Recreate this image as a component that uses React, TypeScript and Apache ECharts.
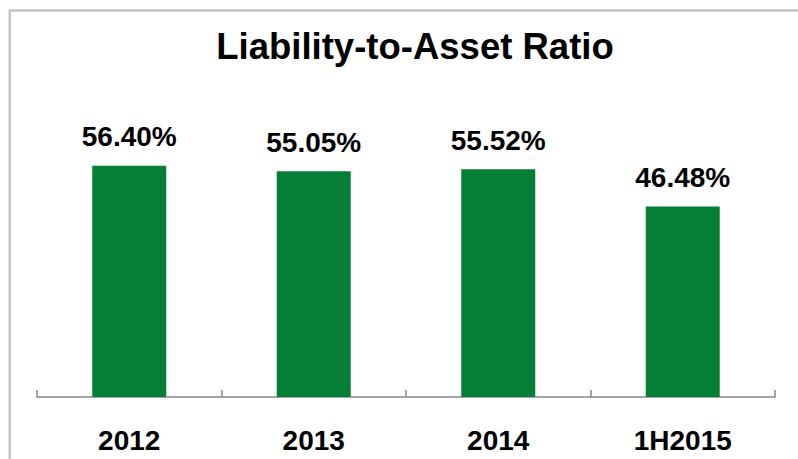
import React, { useEffect, useRef } from "react";
import * as echarts from "echarts";

const categories = ["2012", "2013", "2014", "1H2015"];
const ratios = [56.4, 55.05, 55.52, 46.48];
const titleText = "Liability-to-Asset Ratio";

const FONT = "'Liberation Sans', Arial, sans-serif";

export default function App() {
  const ref = useRef<HTMLDivElement>(null);
  useEffect(() => {
    if (!ref.current) return;
    const chart = echarts.init(ref.current, undefined, { renderer: "svg" });
    chart.setOption({
      animation: false,
      backgroundColor: "#ffffff",
      title: {
        text: titleText,
        left: 410,
        textAlign: "center",
        top: 23,
        textStyle: { fontFamily: FONT, fontSize: 36.5, fontWeight: "bold", color: "#000" },
      },
      graphic: [
        {
          type: "rect",
          shape: { x: 9.75, y: 10.5, width: 1000, height: 1000 },
          style: { fill: "none", stroke: "#c3c3c3", lineWidth: 2.5 },
          silent: true,
        },
      ],
      grid: { left: 37, right: 23, top: 110, bottom: 62 },
      xAxis: {
        type: "category",
        data: categories,
        axisLine: { show: true, lineStyle: { color: "#878787", width: 1.5 } },
        axisTick: {
          show: true,
          alignWithLabel: false,
          inside: true,
          length: 7,
          lineStyle: { color: "#878787", width: 1.5 },
        },
        axisLabel: {
          margin: 29,
          fontFamily: FONT,
          fontSize: 28,
          fontWeight: "bold",
          color: "#000",
        },
      },
      yAxis: {
        type: "value",
        min: 0,
        max: 70,
        show: false,
        splitLine: { show: false },
      },
      series: [
        {
          type: "bar",
          data: ratios,
          barWidth: 74,
          itemStyle: { color: "#057f36" },
          label: {
            show: true,
            position: "top",
            distance: 15,
            fontFamily: FONT,
            fontSize: 28,
            fontWeight: "bold",
            color: "#000",
            formatter: (p: any) => p.value.toFixed(2) + "%",
          },
        },
      ],
    });
    return () => chart.dispose();
  }, []);
  return (
    <div
      ref={ref}
      style={{ position: "absolute", left: 0, top: 0, width: 798, height: 459 }}
    />
  );
}
